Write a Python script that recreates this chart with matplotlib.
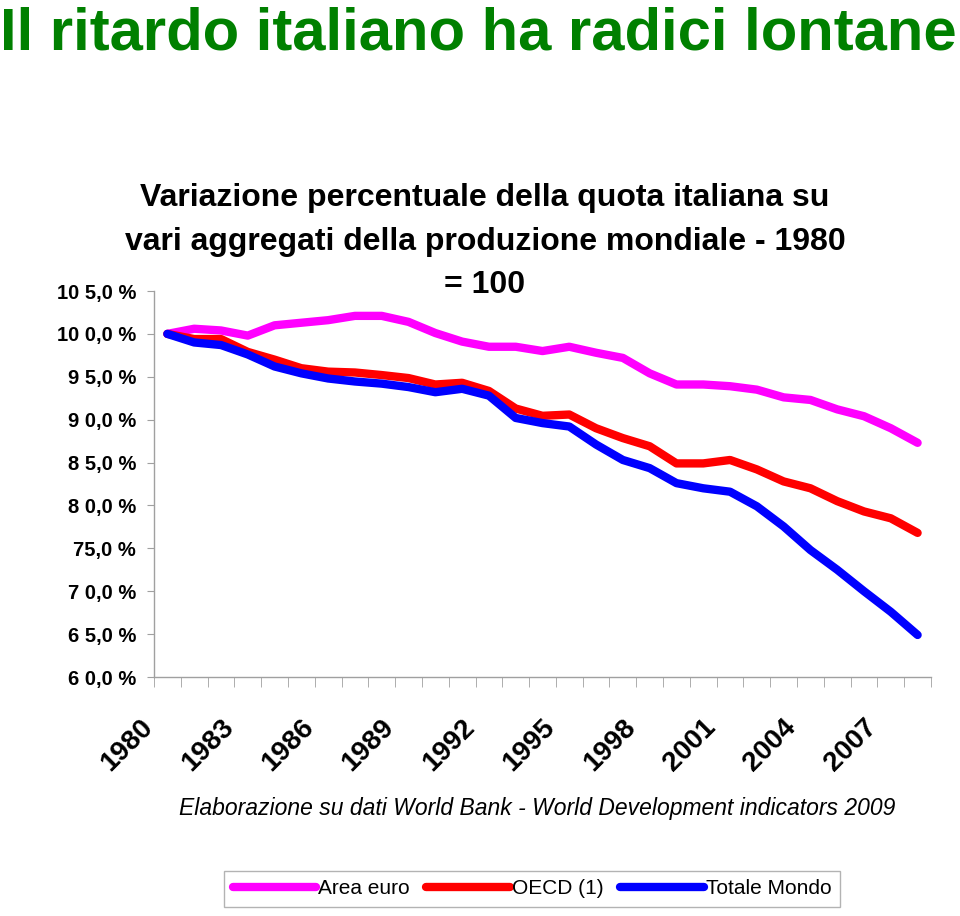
import matplotlib.pyplot as plt
from matplotlib.transforms import ScaledTranslation
from matplotlib.lines import Line2D

# =====================
# Dati (1980 = 100)
# =====================
anni = list(range(1980, 2009))
area_euro = [100.0, 100.6, 100.4, 99.8, 101.0, 101.3, 101.6, 102.1, 102.1, 101.4,
             100.1, 99.1, 98.5, 98.5, 98.0, 98.5, 97.8, 97.2, 95.4, 94.1,
             94.1, 93.9, 93.5, 92.6, 92.3, 91.2, 90.4, 89.0, 87.3]
oecd = [100.0, 99.4, 99.4, 97.9, 97.0, 96.0, 95.6, 95.5, 95.2, 94.85,
        94.1, 94.3, 93.35, 91.3, 90.45, 90.6, 89.0, 87.85, 86.9, 84.9,
        84.9, 85.3, 84.2, 82.8, 82.0, 80.5, 79.3, 78.5, 76.8]
totale_mondo = [100.0, 99.0, 98.7, 97.6, 96.2, 95.4, 94.8, 94.45, 94.2, 93.8,
                93.2, 93.6, 92.8, 90.2, 89.6, 89.2, 87.1, 85.3, 84.35, 82.6,
                82.0, 81.6, 79.9, 77.55, 74.8, 72.5, 70.0, 67.6, 64.9]

serie = ["Area euro", "OECD (1)", "Totale Mondo"]
colori = ["#FF00FF", "#FF0000", "#0000FF"]

y_ticks = [60, 65, 70, 75, 80, 85, 90, 95, 100, 105]
y_labels = ["6 0,0 %", "6 5,0 %", "7 0,0 %", "75,0 %", "8 0,0 %",
            "8 5,0 %", "9 0,0 %", "9 5,0 %", "10 0,0 %", "10 5,0 %"]
x_label_anni = anni[::3][:10]

titolo_righe = ["Variazione percentuale della quota italiana su",
                "vari aggregati della produzione mondiale - 1980",
                "= 100"]

plt.rcParams['font.family'] = ['Liberation Sans', 'DejaVu Sans']

fig = plt.figure(figsize=(9.6, 9.16), dpi=100)
ax = fig.add_axes([154 / 960, 1 - 677 / 916, 777 / 960, 386 / 916])

x = list(range(len(anni)))
for valori, col, nome in zip([area_euro, oecd, totale_mondo], colori, serie):
    ax.plot(x, valori, color=col, lw=6, solid_capstyle='round',
            solid_joinstyle='round', label=nome)

ax.set_xlim(-0.5, len(anni) - 0.5)
ax.set_ylim(60, 105)

# assi
for s in ['top', 'right']:
    ax.spines[s].set_visible(False)
for s in ['left', 'bottom']:
    ax.spines[s].set_color('#A0A0A0')
    ax.spines[s].set_linewidth(1)

ax.set_yticks(y_ticks)
ax.set_yticklabels(y_labels, fontsize=14.5, fontweight='bold')
ax.tick_params(axis='y', direction='out', length=5, color='#A0A0A0', pad=8)

ax.set_xticks([anni.index(a) for a in x_label_anni])
ax.set_xticklabels([str(a) for a in x_label_anni], rotation=45,
                   ha='right', va='top', fontsize=20, fontweight='bold')
ax.set_xticks([i - 0.5 for i in range(len(anni) + 1)], minor=True)
ax.tick_params(axis='x', which='major', length=0, pad=27)
ax.tick_params(axis='x', which='minor', direction='out', length=7,
               color='#A0A0A0')
off = ScaledTranslation(-9 / 100, 0, fig.dpi_scale_trans)
for lab in ax.get_xticklabels():
    lab.set_transform(lab.get_transform() + off)

# titoli
fig.text(478 / 960, 1 - 50 / 916, "Il ritardo italiano ha radici lontane",
         ha='center', va='baseline', fontsize=43, fontweight='bold',
         color='#008000')

for riga, yy in zip(titolo_righe, [198, 242, 285]):
    fig.text(485 / 960, 1 - yy / 916, riga, ha='center', va='center',
             fontsize=23, fontweight='bold')

fig.text(537 / 960, 1 - 808 / 916,
         "Elaborazione su dati World Bank - World Development indicators 2009",
         ha='center', va='center', fontsize=16.5, style='italic')

# legenda
handles = [Line2D([0], [0], color=c, lw=6, solid_capstyle='round') for c in colori]
leg = fig.legend(handles, serie, loc='center', bbox_to_anchor=(532 / 960, 1 - 889 / 916),
                 ncol=3, fontsize=15, frameon=True, fancybox=False,
                 handlelength=4.0, handletextpad=0.1, columnspacing=0.8,
                 borderpad=0.4, edgecolor='#A0A0A0')
leg.get_frame().set_linewidth(1)

fig.savefig("out.png", dpi=100)
